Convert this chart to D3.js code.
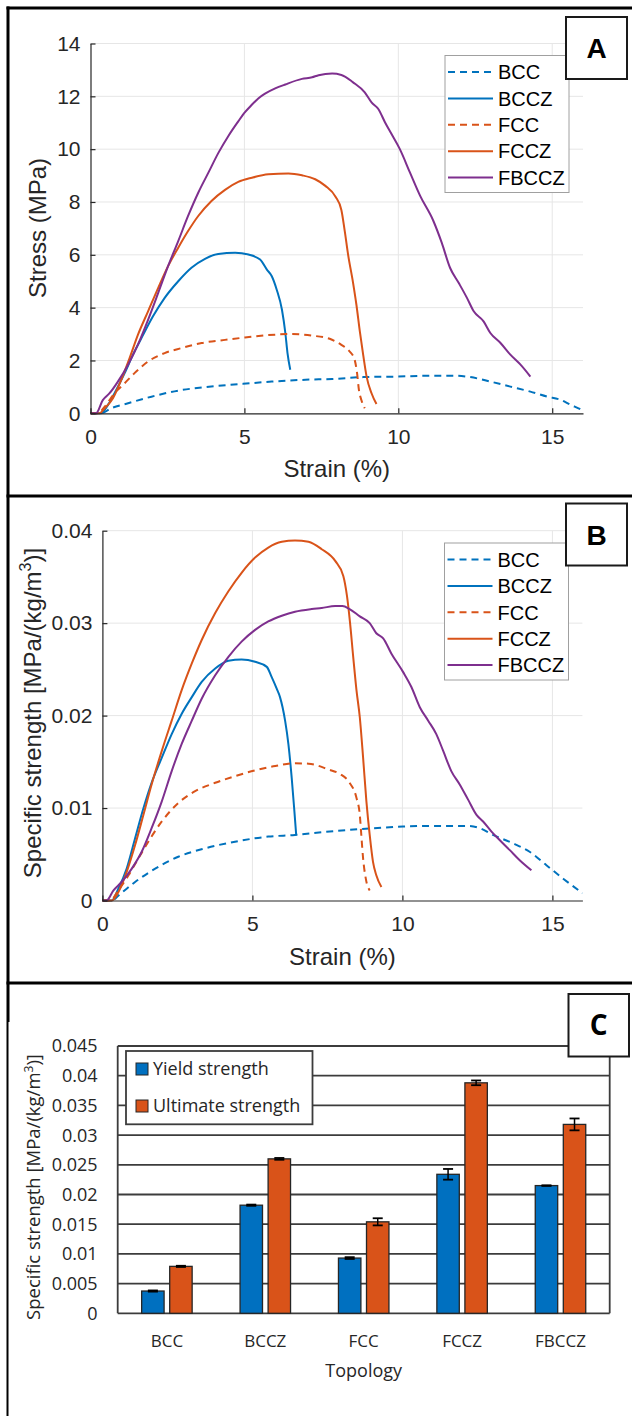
<!DOCTYPE html>
<html>
<head>
<meta charset="utf-8">
<script src="https://cdn.jsdelivr.net/npm/d3@7"></script>
<style>
  body { margin: 0; background: #fff; }
  svg { display: block; }
</style>
</head>
<body>
<div id="figure"></div>
<script>
// ---- data ----
const seriesNames = ['BCC', 'BCCZ', 'FCC', 'FCCZ', 'FBCCZ'];
const strainTicks = [0, 5, 10, 15];
const stressTicks = [0, 2, 4, 6, 8, 10, 12, 14];
const specificTicks = [0, 0.01, 0.02, 0.03, 0.04];
const barTicks = [0, 0.005, 0.01, 0.015, 0.02, 0.025, 0.03, 0.035, 0.04, 0.045];

// panel A: strain (%) vs stress (MPa)
const stressBCC = [[0, 0], [0.35, 0], [0.67, 0.19], [1.22, 0.38], [1.98, 0.63], [2.85, 0.86], [3.72, 0.99], [4.8, 1.1], [5.89, 1.2], [6.98, 1.27], [7.85, 1.3], [8.86, 1.37], [9.95, 1.39], [11.03, 1.42], [11.9, 1.42], [12.34, 1.37], [12.99, 1.2], [13.64, 1.01], [14.29, 0.82], [14.84, 0.63], [15.27, 0.51], [15.6, 0.32], [15.92, 0.15], [16, 0.1]];
const stressBCCZ = [[0, 0], [0.35, 0], [0.57, 0.32], [0.84, 0.89], [1.11, 1.52], [1.38, 2.22], [1.71, 2.97], [2.03, 3.67], [2.41, 4.37], [2.85, 5.0], [3.28, 5.51], [3.72, 5.85], [4.15, 6.03], [4.7, 6.08], [5.13, 6.01], [5.51, 5.82], [5.73, 5.44], [5.89, 5.19], [6.05, 4.68], [6.22, 3.92], [6.33, 3.04], [6.4, 2.28], [6.49, 1.65]];
const stressFCC = [[0, 0], [0.24, 0], [0.46, 0.25], [0.78, 0.76], [1.11, 1.14], [1.43, 1.52], [1.87, 1.96], [2.41, 2.28], [2.96, 2.47], [3.61, 2.66], [4.37, 2.78], [5.02, 2.87], [5.78, 2.96], [6.54, 3.0], [7.2, 2.94], [7.77, 2.82], [8.15, 2.59], [8.42, 2.34], [8.58, 2.03], [8.66, 1.52], [8.72, 0.89], [8.8, 0.5], [8.91, 0.19]];
const stressFCCZ = [[0, 0], [0.29, 0], [0.46, 0.19], [0.73, 0.57], [1.0, 1.27], [1.27, 2.09], [1.54, 2.97], [1.87, 3.86], [2.2, 4.75], [2.52, 5.57], [2.85, 6.27], [3.17, 6.9], [3.5, 7.47], [3.93, 8.04], [4.37, 8.46], [4.8, 8.76], [5.24, 8.92], [5.78, 9.05], [6.43, 9.08], [6.87, 9.01], [7.3, 8.86], [7.63, 8.61], [7.96, 8.2], [8.15, 7.7], [8.26, 6.9], [8.37, 6.0], [8.53, 4.94], [8.64, 4.1], [8.75, 3.1], [8.86, 2.2], [8.97, 1.39], [9.13, 0.76], [9.29, 0.35]];
const stressFBCCZ = [[0, 0], [0.18, 0], [0.4, 0.5], [0.62, 0.76], [0.89, 1.2], [1.22, 1.84], [1.54, 2.6], [1.87, 3.54], [2.2, 4.56], [2.52, 5.57], [2.85, 6.52], [3.17, 7.47], [3.5, 8.35], [3.83, 9.11], [4.15, 9.85], [4.48, 10.5], [4.8, 11.05], [5.02, 11.4], [5.24, 11.68], [5.45, 11.92], [5.67, 12.1], [6.0, 12.3], [6.33, 12.45], [6.87, 12.66], [7.2, 12.72], [7.41, 12.8], [7.85, 12.86], [8.15, 12.81], [8.53, 12.53], [8.91, 12.15], [9.13, 11.77], [9.35, 11.52], [9.57, 11.01], [9.78, 10.57], [10.05, 10.0], [10.38, 9.11], [10.71, 8.23], [11.14, 7.28], [11.41, 6.46], [11.68, 5.51], [11.96, 4.94], [12.23, 4.37], [12.45, 3.86], [12.77, 3.48], [12.99, 3.04], [13.32, 2.66], [13.64, 2.22], [13.97, 1.84], [14.29, 1.39]];

// panel B: strain (%) vs specific strength
const specBCC = [[0, 0], [0.31, 0], [0.59, 0.0007], [1.09, 0.002], [1.76, 0.00345], [2.53, 0.00473], [3.42, 0.00564], [4.42, 0.00636], [5.53, 0.00691], [6.42, 0.00709], [7.31, 0.00738], [8.26, 0.00764], [9.02, 0.00782], [10.02, 0.008], [11.13, 0.00807], [12.13, 0.00807], [12.58, 0.00782], [13.02, 0.00709], [13.69, 0.00618], [14.24, 0.00527], [14.8, 0.00382], [15.36, 0.00236], [16, 0.0008]];
const specBCCZ = [[0, 0], [0.31, 0], [0.53, 0.00127], [0.81, 0.00345], [1.09, 0.00673], [1.37, 0.01], [1.64, 0.01273], [1.98, 0.01545], [2.31, 0.018], [2.64, 0.02018], [2.98, 0.022], [3.31, 0.02364], [3.76, 0.02509], [4.2, 0.02593], [4.64, 0.02607], [5.09, 0.02582], [5.48, 0.02527], [5.64, 0.02418], [5.81, 0.02291], [5.92, 0.022], [6.09, 0.01945], [6.2, 0.01691], [6.31, 0.01327], [6.4, 0.00964], [6.46, 0.00709]];
const specFCC = [[0, 0], [0.26, 0], [0.53, 0.0011], [0.87, 0.00273], [1.2, 0.00455], [1.53, 0.00636], [1.98, 0.00855], [2.53, 0.01055], [3.09, 0.01182], [3.76, 0.01273], [4.42, 0.01345], [5.09, 0.01407], [5.76, 0.01455], [6.42, 0.01484], [6.87, 0.0148], [7.53, 0.01418], [7.91, 0.0137], [8.24, 0.01273], [8.47, 0.01109], [8.58, 0.00927], [8.63, 0.00709], [8.69, 0.00455], [8.78, 0.00236], [8.91, 0.00109]];
const specFCCZ = [[0, 0], [0.31, 0], [0.53, 0.0009], [0.81, 0.0031], [1.09, 0.006], [1.37, 0.0093], [1.64, 0.01255], [1.98, 0.01618], [2.31, 0.01945], [2.64, 0.02273], [2.98, 0.02564], [3.31, 0.02818], [3.76, 0.03109], [4.2, 0.03345], [4.64, 0.03545], [5.09, 0.03709], [5.53, 0.03818], [5.98, 0.0388], [6.42, 0.03895], [6.87, 0.0388], [7.31, 0.038], [7.76, 0.03673], [8.03, 0.0351], [8.15, 0.033], [8.25, 0.0302], [8.36, 0.02636], [8.47, 0.02273], [8.58, 0.01982], [8.69, 0.01545], [8.8, 0.01073], [8.91, 0.00709], [9.02, 0.00418], [9.13, 0.00273], [9.3, 0.00145]];
const specFBCCZ = [[0, 0], [0.14, 0], [0.37, 0.0011], [0.64, 0.002], [0.98, 0.00345], [1.31, 0.00527], [1.64, 0.00782], [1.98, 0.01073], [2.31, 0.014], [2.64, 0.01691], [2.98, 0.01945], [3.31, 0.02182], [3.76, 0.02436], [4.2, 0.02636], [4.64, 0.028], [5.09, 0.02927], [5.53, 0.03018], [5.98, 0.0308], [6.42, 0.03124], [6.98, 0.03153], [7.31, 0.03164], [7.76, 0.03185], [8.0, 0.03185], [8.24, 0.03153], [8.58, 0.03073], [8.91, 0.03], [9.13, 0.02891], [9.36, 0.02836], [9.63, 0.02673], [10.02, 0.02473], [10.3, 0.02309], [10.58, 0.02091], [10.86, 0.01945], [11.13, 0.018], [11.36, 0.01618], [11.63, 0.014], [11.91, 0.01255], [12.19, 0.01091], [12.47, 0.00927], [12.69, 0.00855], [12.97, 0.00745], [13.24, 0.00655], [13.58, 0.00545], [13.91, 0.00436], [14.3, 0.00327]];

// panel C: bar chart
const topologies = ['BCC', 'BCCZ', 'FCC', 'FCCZ', 'FBCCZ'];
const yieldStrength = [0.00375, 0.0182, 0.0093, 0.0234, 0.0215];
const ultimateStrength = [0.0079, 0.026, 0.0154, 0.0388, 0.0318];
const yieldError = [0.0001, 0.0001, 0.00015, 0.0009, 0.00005];
const ultimateError = [0.0001, 0.00015, 0.0006, 0.0004, 0.001];

// ---- styles ----
const lineStyles = [
  { color: '#0072bd', dash: '7,5' },
  { color: '#0072bd', dash: null },
  { color: '#d95319', dash: '7,5' },
  { color: '#d95319', dash: null },
  { color: '#7e2f8e', dash: null },
];
const matlabFont = "'Liberation Sans', Arial, sans-serif";
const excelFont = "'Open Sans', sans-serif";

const svg = d3.select('#figure').append('svg')
  .attr('width', 632)
  .attr('height', 1416);

function labelBox(x, y, w, h, letter, font) {
  svg.append('rect')
    .attr('x', x).attr('y', y).attr('width', w).attr('height', h)
    .attr('fill', '#fff').attr('stroke', '#1a1a1a').attr('stroke-width', 2);
  svg.append('text')
    .attr('x', x + w / 2).attr('y', y + h / 2)
    .attr('dy', '0.36em')
    .attr('text-anchor', 'middle')
    .attr('font-family', font)
    .attr('font-weight', 'bold')
    .attr('font-size', 28)
    .text(letter);
}

function drawCurvePanel(cfg) {
  const x = d3.scaleLinear().domain([0, 16]).range([cfg.left, cfg.right]);
  const y = d3.scaleLinear().domain([0, cfg.yMax]).range([cfg.bottom, cfg.top]);
  const g = svg.append('g');

  // grid
  g.selectAll('.vgrid')
    .data(strainTicks.filter(t => t > 0))
    .enter()
    .append('line')
    .attr('x1', d => x(d)).attr('x2', d => x(d))
    .attr('y1', cfg.top).attr('y2', cfg.bottom)
    .attr('stroke', '#e6e6e6');

  g.selectAll('.hgrid')
    .data(cfg.yTicks.filter(t => t > 0))
    .enter()
    .append('line')
    .attr('x1', cfg.left).attr('x2', cfg.right)
    .attr('y1', d => y(d)).attr('y2', d => y(d))
    .attr('stroke', '#e6e6e6');

  // curves
  const line = d3.line()
    .x(d => x(d[0]))
    .y(d => y(d[1]))
    .curve(d3.curveMonotoneX);

  cfg.curves.forEach(function (c, i) {
    g.append('path')
      .attr('d', line(c))
      .attr('fill', 'none')
      .attr('stroke', lineStyles[i].color)
      .attr('stroke-width', 2)
      .attr('stroke-dasharray', lineStyles[i].dash);
  });

  // axes, ticks pointing inward
  const xAxis = g.append('g')
    .attr('transform', `translate(0, ${cfg.bottom})`)
    .call(d3.axisBottom(x).tickValues(strainTicks).tickSize(-5).tickSizeOuter(0).tickPadding(16));
  const yAxis = g.append('g')
    .attr('transform', `translate(${cfg.left}, 0)`)
    .call(d3.axisLeft(y).tickValues(cfg.yTicks).tickSize(-5).tickSizeOuter(0).tickPadding(10)
      .tickFormat(d => String(d)));

  [xAxis, yAxis].forEach(function (a) {
    a.attr('color', '#262626')
      .attr('font-family', matlabFont)
      .attr('font-size', 21);
    a.selectAll('path, line').attr('stroke-width', 1.2);
  });

  // axis titles
  g.append('text')
    .attr('x', (cfg.left + cfg.right) / 2)
    .attr('y', cfg.xTitleY)
    .attr('text-anchor', 'middle')
    .attr('font-family', matlabFont)
    .attr('font-size', 24)
    .attr('fill', '#262626')
    .text('Strain (%)');

  const yt = g.append('text')
    .attr('transform', `translate(${cfg.yTitleX}, ${cfg.yTitleY}) rotate(-90)`)
    .attr('text-anchor', 'middle')
    .attr('font-family', matlabFont)
    .attr('font-size', 24)
    .attr('fill', '#262626');
  if (cfg.superTitle) {
    yt.append('tspan').text('Specific strength [MPa/(kg/m');
    yt.append('tspan').attr('font-size', 16).attr('dy', -10).text('3');
    yt.append('tspan').attr('dy', 10).text(')]');
  } else {
    yt.text(cfg.yTitle);
  }

  // legend
  const lx = cfg.legendX;
  const ly = cfg.legendY;
  g.append('rect')
    .attr('x', lx).attr('y', ly)
    .attr('width', 124).attr('height', 137)
    .attr('fill', '#fff')
    .attr('stroke', '#a0a0a0')
    .attr('stroke-width', 1);

  seriesNames.forEach(function (name, i) {
    const cy = ly + 16.5 + i * 26.4;
    g.append('line')
      .attr('x1', lx + 3).attr('x2', lx + 48)
      .attr('y1', cy).attr('y2', cy)
      .attr('stroke', lineStyles[i].color)
      .attr('stroke-width', 2)
      .attr('stroke-dasharray', lineStyles[i].dash);
    g.append('text')
      .attr('x', lx + 53).attr('y', cy)
      .attr('dy', '0.36em')
      .attr('font-family', matlabFont)
      .attr('font-size', 20)
      .attr('fill', '#000')
      .text(name);
  });
}

drawCurvePanel({
  left: 90.5, right: 583, top: 43.5, bottom: 413.3,
  yMax: 14, yTicks: stressTicks,
  curves: [stressBCC, stressBCCZ, stressFCC, stressFCCZ, stressFBCCZ],
  xTitleY: 477, yTitleX: 46, yTitleY: 228, yTitle: 'Stress (MPa)',
  legendX: 445, legendY: 55.5,
});
labelBox(566, 17, 61, 62, 'A', matlabFont);

drawCurvePanel({
  left: 102.4, right: 582.4, top: 530.7, bottom: 900.5,
  yMax: 0.04, yTicks: specificTicks,
  curves: [specBCC, specBCCZ, specFCC, specFCCZ, specFBCCZ],
  xTitleY: 965, yTitleX: 41, yTitleY: 713, superTitle: true,
  legendX: 444.5, legendY: 543,
});
labelBox(566, 503.5, 61, 62, 'B', matlabFont);

// ---- panel C ----
const cLeft = 117.7;
const cRight = 609.7;
const cTop = 1046;
const cBottom = 1313.3;
const gridColor = '#3c3c3c';

const xC = d3.scaleBand().domain(topologies).range([cLeft, cRight]);
const yC = d3.scaleLinear().domain([0, 0.045]).range([cBottom, cTop]);
const xSub = d3.scaleBand()
  .domain(['yield', 'ultimate'])
  .range([xC.bandwidth() * 0.2435, xC.bandwidth() * 0.7565])
  .paddingInner(0.2);

const gC = svg.append('g');

gC.selectAll('.cgrid')
  .data(barTicks)
  .enter()
  .append('line')
  .attr('x1', cLeft).attr('x2', cRight)
  .attr('y1', d => yC(d)).attr('y2', d => yC(d))
  .attr('stroke', gridColor)
  .attr('stroke-width', 1.8);

gC.append('line')
  .attr('x1', cLeft).attr('x2', cLeft)
  .attr('y1', cTop).attr('y2', cBottom)
  .attr('stroke', gridColor).attr('stroke-width', 1.8);
gC.append('line')
  .attr('x1', cRight).attr('x2', cRight)
  .attr('y1', cTop).attr('y2', cBottom)
  .attr('stroke', gridColor).attr('stroke-width', 1.8);

gC.selectAll('.ctick')
  .data(barTicks)
  .enter()
  .append('text')
  .attr('x', 97.6)
  .attr('y', d => yC(d))
  .attr('dy', '0.36em')
  .attr('text-anchor', 'end')
  .attr('font-family', excelFont)
  .attr('font-size', 18)
  .attr('fill', '#262626')
  .text(d => String(d));

const barSeries = [
  { key: 'yield', values: yieldStrength, errors: yieldError, color: '#0070c0', name: 'Yield strength' },
  { key: 'ultimate', values: ultimateStrength, errors: ultimateError, color: '#d95319', name: 'Ultimate strength' },
];

barSeries.forEach(function (s) {
  const bx = (d, i) => xC(topologies[i]) + xSub(s.key);
  gC.selectAll(`.bar-${s.key}`)
    .data(s.values)
    .enter()
    .append('rect')
    .attr('x', bx)
    .attr('y', d => yC(d))
    .attr('width', xSub.bandwidth())
    .attr('height', d => cBottom - yC(d))
    .attr('fill', s.color)
    .attr('stroke', '#262626')
    .attr('stroke-width', 1.3);

  s.values.forEach(function (v, i) {
    const cx = bx(v, i) + xSub.bandwidth() / 2;
    const e = s.errors[i];
    gC.append('line')
      .attr('x1', cx).attr('x2', cx)
      .attr('y1', yC(v - e)).attr('y2', yC(v + e))
      .attr('stroke', '#000').attr('stroke-width', 1.5);
    [v - e, v + e].forEach(function (w) {
      gC.append('line')
        .attr('x1', cx - 5).attr('x2', cx + 5)
        .attr('y1', yC(w)).attr('y2', yC(w))
        .attr('stroke', '#000').attr('stroke-width', 1.8);
    });
  });
});

gC.selectAll('.ccat')
  .data(topologies)
  .enter()
  .append('text')
  .attr('x', d => xC(d) + xC.bandwidth() / 2)
  .attr('y', 1347)
  .attr('text-anchor', 'middle')
  .attr('font-family', excelFont)
  .attr('font-size', 17)
  .attr('fill', '#262626')
  .text(d => d);

gC.append('text')
  .attr('x', (cLeft + cRight) / 2)
  .attr('y', 1377)
  .attr('text-anchor', 'middle')
  .attr('font-family', excelFont)
  .attr('font-size', 18)
  .attr('fill', '#262626')
  .text('Topology');

const ytC = gC.append('text')
  .attr('transform', 'translate(40, 1187) rotate(-90)')
  .attr('text-anchor', 'middle')
  .attr('font-family', excelFont)
  .attr('font-size', 18.5)
  .attr('fill', '#262626');
ytC.append('tspan').text('Specific strength [MPa/(kg/m');
ytC.append('tspan').attr('font-size', 12).attr('dy', -7).text('3');
ytC.append('tspan').attr('dy', 7).text(')]');

// legend C
gC.append('rect')
  .attr('x', 126).attr('y', 1051)
  .attr('width', 186.5).attr('height', 73.3)
  .attr('fill', '#fff')
  .attr('stroke', gridColor)
  .attr('stroke-width', 1.8);

barSeries.forEach(function (s, i) {
  const cy = 1069 + i * 37;
  gC.append('rect')
    .attr('x', 136).attr('y', cy - 6)
    .attr('width', 12).attr('height', 12)
    .attr('fill', s.color)
    .attr('stroke', '#262626')
    .attr('stroke-width', 1);
  gC.append('text')
    .attr('x', 153).attr('y', cy)
    .attr('dy', '0.36em')
    .attr('font-family', excelFont)
    .attr('font-size', 18)
    .attr('fill', '#262626')
    .text(s.name);
});

labelBox(568.5, 994, 60.5, 62.5, 'C', excelFont);

// ---- panel frames ----
const frame = svg.append('g').attr('stroke', '#000').attr('fill', 'none');
frame.append('line').attr('x1', 6.5).attr('x2', 632).attr('y1', 8).attr('y2', 8).attr('stroke-width', 3);
frame.append('line').attr('x1', 6.5).attr('x2', 632).attr('y1', 496).attr('y2', 496).attr('stroke-width', 3);
frame.append('line').attr('x1', 6.5).attr('x2', 632).attr('y1', 983).attr('y2', 983).attr('stroke-width', 3);
frame.append('line').attr('x1', 8).attr('x2', 8).attr('y1', 6.5).attr('y2', 1022).attr('stroke-width', 3);
frame.append('line').attr('x1', 7.5).attr('x2', 7.5).attr('y1', 1022).attr('y2', 1416).attr('stroke-width', 2);
</script>
</body>
</html>
